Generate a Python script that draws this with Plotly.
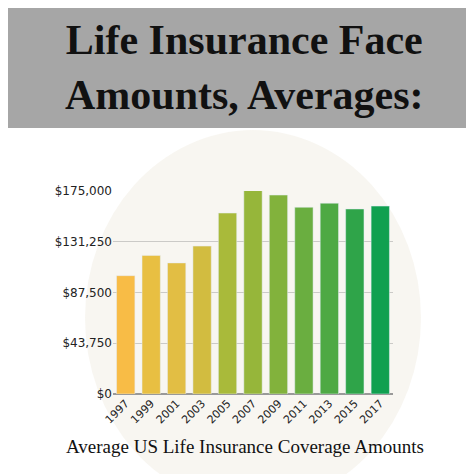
import plotly.graph_objects as go

years = ["1997", "1999", "2001", "2003", "2005", "2007", "2009", "2011", "2013", "2015", "2017"]
amounts = [102000, 119500, 113000, 127500, 156000, 175500, 171500, 161000, 164500, 159500, 162000]
bar_colors = ["#F8BC46", "#E8BF42", "#E2BE44", "#D2BC40", "#A9BA3A", "#96B63A",
              "#82B23C", "#6AAE40", "#4EA944", "#2FA449", "#10A050"]
tick_vals = [0, 43750, 87500, 131250, 175000]
tick_text = ["$0", "$43,750", "$87,500", "$131,250", "$175,000"]

fig = go.Figure(go.Bar(x=years, y=amounts, marker_color=bar_colors, width=0.72))

fig.update_layout(
    width=474, height=474,
    paper_bgcolor="white", plot_bgcolor="rgba(0,0,0,0)",
    margin=dict(l=105, r=89, t=183, b=88, autoexpand=False),
    showlegend=False,
    font=dict(family="DejaVu Sans", color="#222"),
    xaxis=dict(tickangle=-45, tickfont=dict(size=11), showgrid=False,
               showline=False, ticks=""),
    yaxis=dict(range=[0, 175000], tickvals=tick_vals, ticktext=tick_text,
               tickfont=dict(size=12), gridcolor="rgba(120,120,120,0.35)",
               zeroline=True, zerolinecolor="#999", showline=False),
    shapes=[
        # soft background silhouette
        dict(type="circle", xref="paper", yref="paper", x0=-0.1, x1=1.1, y0=-0.55, y1=1.3,
             fillcolor="rgba(225,215,190,0.22)", line_width=0, layer="below"),
        # title band
        dict(type="rect", xref="paper", yref="paper", x0=-0.6, x1=1.6,
             y0=1.31, y1=2.6, fillcolor="#A6A6A6", line_width=0),
    ],
    annotations=[
        dict(text="<b>Life Insurance Face<br>Amounts, Averages:</b>",
             xref="paper", yref="paper", x=0.47, y=1.61, yanchor="middle",
             showarrow=False, font=dict(family="Liberation Serif", size=42, color="#111")),
        dict(text="Average US Life Insurance Coverage Amounts",
             xref="paper", yref="paper", x=0.47, y=-0.32, showarrow=False,
             font=dict(family="Liberation Serif", size=19, color="#111")),
        dict(text="https://wholelifeterminsurance.com/what-is-the-face-amount-of-life-insurance/",
             xref="paper", yref="paper", x=1.3, y=0.62, textangle=-90, showarrow=False,
             font=dict(size=7, color="#555")),
    ],
)

fig.write_html("out.html")
